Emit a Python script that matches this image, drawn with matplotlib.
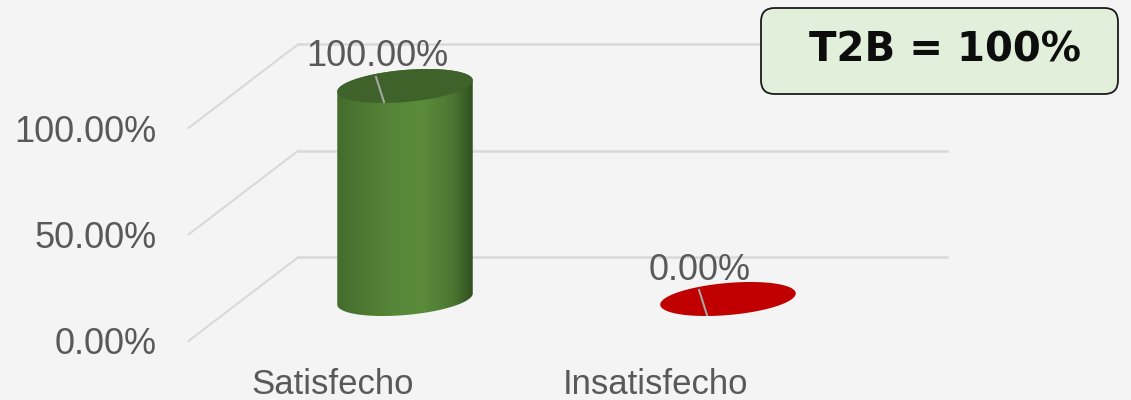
import numpy as np
import matplotlib
matplotlib.use('Agg')
import matplotlib.pyplot as plt
from matplotlib.patches import Polygon, FancyBboxPatch
from matplotlib.colors import LinearSegmentedColormap
import matplotlib.transforms as mtransforms

# datos
categorias = ['Satisfecho', 'Insatisfecho']
valores = [100.0, 0.0]
etiquetas = ['100.00%', '0.00%']
ticks = [0, 50, 100]
tick_labels = ['0.00%', '50.00%', '100.00%']
resumen = 'T2B = 100%'

plt.rcParams['font.family'] = ['Liberation Sans', 'DejaVu Sans']
gris_txt = '#595959'
gris_linea = '#d9d9d9'
fondo = '#f4f4f4'

fig = plt.figure(figsize=(11.31, 4), dpi=100)
fig.patch.set_facecolor(fondo)
ax = fig.add_axes([0, 0, 1, 1])
ax.set_facecolor(fondo)
ax.set_xlim(-405 / 323, (1131 - 405) / 323)
ax.set_ylim(-101 / 2.13, (400 - 101) / 2.13)
ax.axis('off')

# pixeles por unidad de datos
p0 = ax.transData.transform((0, 0))
p1 = ax.transData.transform((1, 1))
px_x = p1[0] - p0[0]
px_y = p1[1] - p0[1]

def desplaza(dx, dy):
    # desplazamiento en pixeles sobre transData
    return ax.transData + mtransforms.ScaledTranslation(dx / 100, dy / 100, fig.dpi_scale_trans)

# profundidad (efecto 3D): plano medio = datos
prof_x, prof_y = 55, 42
x_izq, x_der = -0.50, 1.508

# paredes y lineas de cuadricula
for v, lab in zip(ticks, tick_labels):
    ax.plot([x_izq - prof_x / px_x, x_izq + prof_x / px_x],
            [v - prof_y / px_y, v + prof_y / px_y],
            color=gris_linea, lw=1.5, zorder=1)
    ax.plot([x_izq, x_der], [v, v], color=gris_linea, lw=1.8, zorder=1,
            transform=desplaza(prof_x, prof_y))
    ax.text(x_izq, v, lab, ha='right', va='center', fontsize=26, color=gris_txt,
            transform=desplaza(-prof_x - 32, -prof_y - 4))

# cilindros
a, b, th = 68, 16, np.radians(5)

def elipse(cx, cy, t):
    ex = a * np.cos(t)
    ey = b * np.sin(t)
    dx = ex * np.cos(th) - ey * np.sin(th)
    dy = ex * np.sin(th) + ey * np.cos(th)
    return np.column_stack([cx + dx / px_x, cy + dy / px_y])

verde = LinearSegmentedColormap.from_list('verde', [
    (0.0, '#456b2c'), (0.12, '#4a7331'), (0.4, '#558537'),
    (0.62, '#5b8c3c'), (0.85, '#4b7531'), (1.0, '#2e4b1c')])
colores_top = ['#3e6229', '#c00000']

for i, (cat, v) in enumerate(zip(categorias, valores)):
    t = np.linspace(0, 2 * np.pi, 200)
    if v > 0:
        abajo = elipse(i, 0, np.linspace(np.pi, 2 * np.pi, 100))
        arriba = elipse(i, v, np.linspace(0, np.pi, 100))
        cuerpo = Polygon(np.vstack([abajo, arriba]), closed=True,
                         facecolor='none', edgecolor='none')
        ax.add_patch(cuerpo)
        grad = np.linspace(0, 1, 256).reshape(1, -1)
        im = ax.imshow(grad, cmap=verde, aspect='auto', zorder=3,
                       extent=[i - (a + 2) / px_x, i + (a + 2) / px_x,
                               -30 / px_y, v + 30 / px_y])
        im.set_clip_path(cuerpo)
    tapa = Polygon(elipse(i, v, t), closed=True, facecolor=colores_top[i],
                   edgecolor='none', zorder=4)
    ax.add_patch(tapa)
    # linea guia y etiqueta de datos
    ax.plot([i - 29 / px_x, i - 21 / px_x], [v + 9 / px_y, v - 16 / px_y],
            color='#a6a6a6', lw=1.5, zorder=5)
    ax.text(i, v, etiquetas[i], ha='center', va='center', fontsize=26,
            color=gris_txt, zorder=6, transform=desplaza(-28, 29))
    ax.text(i, 0, cat, ha='center', va='center', fontsize=25, color=gris_txt,
            transform=desplaza(-prof_x - 17, -85))

# cuadro T2B
caja = FancyBboxPatch((761 / 1131, (400 - 94) / 400), 357 / 1131, 86 / 400,
                      boxstyle='round,pad=0,rounding_size=0.012',
                      transform=ax.transAxes, facecolor='#e2efda',
                      edgecolor='#1a1a1a', lw=1.3, zorder=7,
                      mutation_aspect=1131 / 400)
ax.add_patch(caja)
ax.text(945 / 1131, (400 - 51) / 400, resumen, ha='center', va='center',
        fontsize=29, fontweight='bold', family='DejaVu Sans', color='#0d0d0d',
        transform=ax.transAxes, zorder=8)

fig.savefig('out.png', dpi=100, facecolor=fondo)
